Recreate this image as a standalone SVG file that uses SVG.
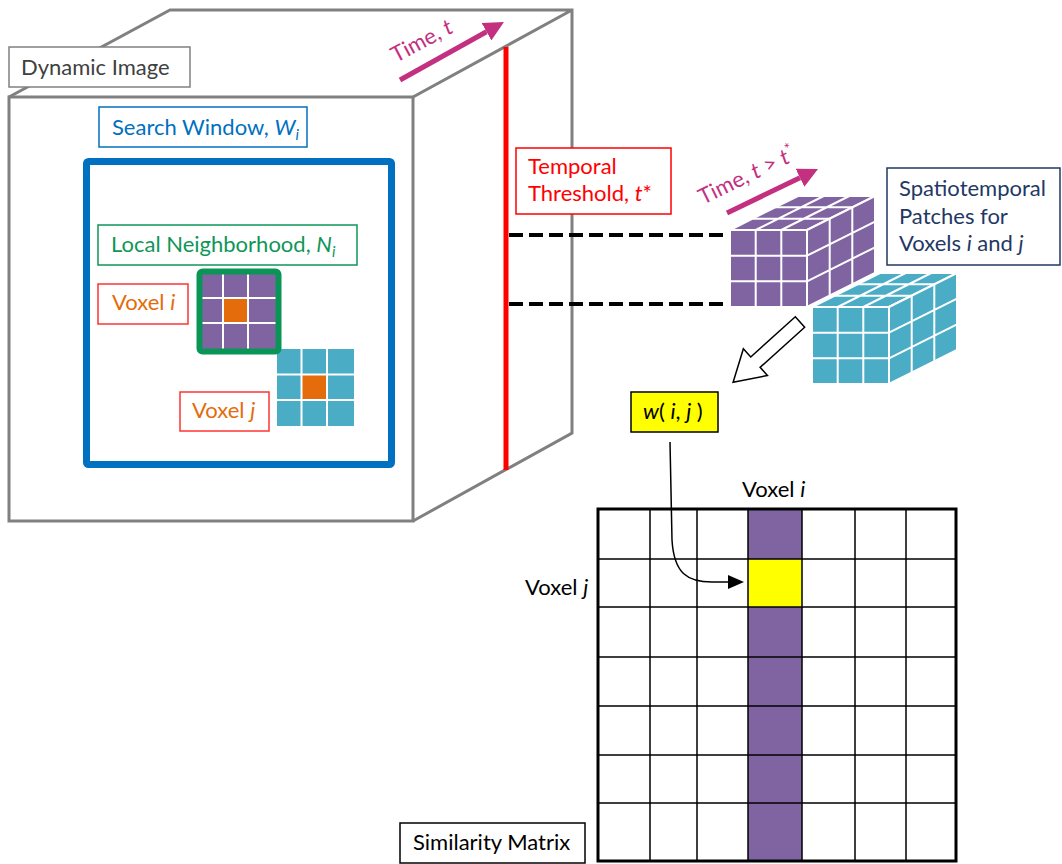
<svg xmlns="http://www.w3.org/2000/svg" width="1062" height="864" viewBox="0 0 1062 864">
<style>
text{font-family:Lato,"Liberation Sans",sans-serif;font-size:22px}
.it{font-style:italic}
.box{fill:#fff;stroke-width:1.5}
.cube{fill:none;stroke:#808080;stroke-width:3;stroke-linejoin:miter}
.wl{stroke:#fff;stroke-width:2;fill:none}
.ml{stroke:#000;stroke-width:1.5;fill:none}
.mag{stroke:#C2307F;stroke-width:5;fill:none}
.dash{stroke:#000;stroke-width:4;stroke-dasharray:14 6;fill:none}
</style>
<defs>
<marker id="magHead" viewBox="0 0 10 10" refX="0" refY="5" markerWidth="4" markerHeight="4" orient="auto" markerUnits="strokeWidth">
<path d="M0,0 L10,5 L0,10 z" fill="#C2307F"/>
</marker>
<marker id="blkHead" viewBox="0 0 16 14" refX="0" refY="7" markerWidth="16" markerHeight="14" orient="auto" markerUnits="userSpaceOnUse">
<path d="M0,0 L16,7 L0,14 z" fill="#000"/>
</marker>
</defs>
<rect width="1062" height="864" fill="#fff"/>

<g id="dynamic-image-cube">
<path class="cube" d="M9,97 L170,10 L572,10 L572,433 L413,521 M413,97 L572,10"/>
<rect class="cube" x="9" y="97" width="404" height="424" fill="#fff"/>
<line x1="506" y1="47" x2="506" y2="470" stroke="#FF0000" stroke-width="5"/>
</g>

<g id="label-dynamic-image">
<rect class="box" x="9" y="47" width="181" height="40" stroke="#808080"/>
<text x="21" y="75" fill="#404040">Dynamic Image</text>
</g>

<g id="time-arrow">
<line class="mag" x1="400" y1="80" x2="486.5" y2="31.7" marker-end="url(#magHead)"/>
<text transform="translate(396,63) rotate(-28)" fill="#C2307F" font-size="21">Time, <tspan class="it">t</tspan></text>
</g>

<g id="label-search-window">
<rect class="box" x="99" y="107" width="208" height="40" stroke="#0070C0"/>
<text x="112" y="135" fill="#0070C0">Search Window, <tspan class="it">W</tspan><tspan class="it" font-size="15" dy="5">i</tspan></text>
</g>

<g id="search-window">
<rect x="86.5" y="161.5" width="305" height="303" rx="2" fill="none" stroke="#0070C0" stroke-width="7"/>
</g>

<g id="label-local-neighborhood">
<rect class="box" x="98" y="225" width="259" height="40" stroke="#0E9658"/>
<text x="111" y="252" fill="#0E9658">Local Neighborhood, <tspan class="it">N</tspan><tspan class="it" font-size="15" dy="5">i</tspan></text>
</g>

<g id="label-voxel-i">
<rect class="box" x="98" y="284" width="90" height="40" stroke="#FF3333"/>
<text x="112" y="310" fill="#E46C0A">Voxel <tspan class="it">i</tspan></text>
</g>

<g id="patch-j">
<rect x="277" y="349" width="77" height="77" fill="#4BACC6"/>
<rect x="302" y="375" width="25" height="25" fill="#E46C0A"/>
<path class="wl" d="M301.5,349 V426 M327,349 V426 M277,374.5 H354 M277,400 H354"/>
</g>

<g id="patch-i">
<rect x="199" y="272" width="80" height="80" fill="#8064A2"/>
<rect x="223" y="298" width="25" height="25" fill="#E46C0A"/>
<path class="wl" d="M223,272 V352 M248,272 V352 M199,298 H279 M199,323 H279"/>
<rect x="199.5" y="271.5" width="79" height="80" rx="3" fill="none" stroke="#0A9456" stroke-width="6"/>
</g>

<g id="label-voxel-j">
<rect class="box" x="180" y="392" width="89" height="39" stroke="#FF3333"/>
<text x="192" y="418" fill="#E46C0A">Voxel <tspan class="it">j</tspan></text>
</g>

<g id="label-temporal-threshold">
<rect class="box" x="516" y="148" width="155" height="66" stroke="#FF0000"/>
<text x="528" y="174" fill="#FF0000">Temporal</text>
<text x="528" y="201" fill="#FF0000">Threshold, <tspan class="it">t</tspan>*</text>
</g>

<g id="time-arrow-2">
<line class="mag" x1="727" y1="213" x2="800" y2="177.7" marker-end="url(#magHead)"/>
<text transform="translate(703,205) rotate(-26)" fill="#C2307F" font-size="21">Time, <tspan class="it">t</tspan> &gt; <tspan class="it">t</tspan><tspan font-size="15" dy="-8">*</tspan></text>
</g>

<g id="cube-i">
<path d="M730,230 H807 L875,196 H798 Z" fill="#8064A2" stroke="#fff" stroke-width="2"/>
<path d="M807,230 L875,196 V273 L807,307 Z" fill="#8064A2" stroke="#fff" stroke-width="2"/>
<rect x="730" y="230" width="77" height="77" fill="#8064A2" stroke="#fff" stroke-width="2"/>
<path class="wl" d="M755.7,230 V307 M781.3,230 V307 M730,255.7 H807 M730,281.3 H807
M752.7,218.7 H829.7 M775.3,207.3 H852.3 M755.7,230 L823.7,196 M781.3,230 L849.3,196
M829.7,218.7 V295.7 M852.3,207.3 V284.3 M807,255.7 L875,221.7 M807,281.3 L875,247.3"/>
</g>

<g id="cube-j">
<path d="M812,307 H889 L957,273 H880 Z" fill="#4BACC6" stroke="#fff" stroke-width="2"/>
<path d="M889,307 L957,273 V350 L889,384 Z" fill="#4BACC6" stroke="#fff" stroke-width="2"/>
<rect x="812" y="307" width="77" height="77" fill="#4BACC6" stroke="#fff" stroke-width="2"/>
<path class="wl" d="M837.7,307 V384 M863.3,307 V384 M812,332.7 H889 M812,358.3 H889
M834.7,295.7 H911.7 M857.3,284.3 H934.3 M837.7,307 L905.7,273 M863.3,307 L931.3,273
M911.7,295.7 V372.7 M934.3,284.3 V361.3 M889,332.7 L957,298.7 M889,358.3 L957,324.3"/>
</g>

<g id="label-spatiotemporal">
<rect class="box" x="887" y="168" width="173" height="97" stroke="#1F3864"/>
<text x="899" y="196" fill="#1F3864">Spatiotemporal</text>
<text x="899" y="224" fill="#1F3864">Patches for</text>
<text x="899" y="251" fill="#1F3864">Voxels <tspan class="it">i</tspan> and <tspan class="it">j</tspan></text>
</g>

<g id="hollow-arrow">
<polygon points="0,-7 60,-7 60,-18 90,0 60,18 60,7 0,7" transform="translate(800,322) rotate(138)" fill="#fff" stroke="#000" stroke-width="1.5"/>
</g>

<g id="label-w">
<rect x="631" y="392" width="87" height="40" fill="#FFFF00" stroke="#000" stroke-width="1.5"/>
<text x="643" y="419" fill="#000"><tspan class="it">w</tspan>( <tspan class="it">i</tspan>, <tspan class="it">j</tspan> )</text>
</g>

<g id="similarity-matrix">
<rect x="748" y="509" width="54" height="352" fill="#8064A2"/>
<rect x="748" y="559" width="54" height="48" fill="#FFFF00"/>
<path class="ml" d="M650,509 V861 M697,509 V861 M748,509 V861 M802,509 V861 M855,509 V861 M906,509 V861
M598,559 H956 M598,607 H956 M598,657 H956 M598,706 H956 M598,755 H956 M598,803 H956"/>
<rect x="598" y="509" width="358" height="352" fill="none" stroke="#000" stroke-width="3"/>
<text x="742" y="497" fill="#000">Voxel <tspan class="it">i</tspan></text>
<text x="525" y="595" fill="#000">Voxel <tspan class="it">j</tspan></text>
</g>

<g id="label-similarity-matrix">
<rect class="box" x="400" y="823" width="185" height="40" stroke="#000"/>
<text x="413" y="850" fill="#000">Similarity Matrix</text>
</g>

<g id="connectors">
<line class="dash" x1="509" y1="235" x2="729" y2="235"/>
<line class="dash" x1="509" y1="304" x2="729" y2="304"/>
<path d="M670,442 L672,540 C674,574 688,582 712,582 L728,582" fill="none" stroke="#000" stroke-width="1.5" marker-end="url(#blkHead)"/>
</g>
</svg>
